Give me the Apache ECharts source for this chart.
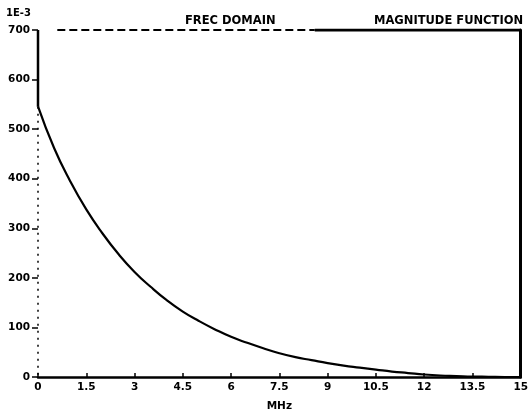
<!DOCTYPE html>
<html>
<head>
<meta charset="utf-8">
<script src="https://cdn.jsdelivr.net/npm/echarts@6/dist/echarts.min.js"></script>
<style>html,body{margin:0;padding:0;background:#fff;}#c{width:531px;height:417px;}</style>
</head>
<body>
<div id="c"></div>
<script>
// Frequency (MHz) and magnitude (units of 1E-3)
const freqMHz = [0,0.5,1,1.5,2,2.5,3,3.5,4,4.5,5,5.5,6,6.5,7,7.5,8,8.5,9,9.5,10,10.5,11,11.5,12,12.5,13,13.5,14,14.5,15];
const magnitude = [546,462,395,338,290,248,212,182,155,132,113,96,81,69,58,48,40,34,28,23,19,15,11,8,5,3,2,1,0.5,0,0];
const xTickLabels = ["0","1.5","3","4.5","6","7.5","9","10.5","12","13.5","15"];
const yTickLabels = ["0","100","200","300","400","500","600","700"];
const titleLeft = "FREC DOMAIN";
const titleRight = "MAGNITUDE FUNCTION";
const unitLabel = "1E-3";
const xName = "MHz";

const font = '"DejaVu Sans", sans-serif';
const data = freqMHz.map((f, i) => [f, magnitude[i]]);

const chart = echarts.init(document.getElementById('c'), null, {renderer: 'canvas'});
chart.setOption({
  animation: false,
  backgroundColor: '#fff',
  grid: {left: 38, right: 8, top: 30, bottom: 37, show: false},
  title: [
    {text: unitLabel, left: 1, top: 3, textStyle: {fontFamily: font, fontSize: 10, fontWeight: 'bold', color: '#000'}},
    {text: titleLeft, left: 180, top: 10, textStyle: {fontFamily: font, fontSize: 11.5, fontWeight: 'bold', color: '#000'}},
    {text: titleRight, left: 369, top: 10, textStyle: {fontFamily: font, fontSize: 11.5, fontWeight: 'bold', color: '#000'}}
  ],
  xAxis: [{
    type: 'value', min: 0, max: 15, interval: 1.5,
    name: xName, nameLocation: 'middle', nameGap: 24,
    nameTextStyle: {fontFamily: font, fontSize: 10.5, fontWeight: 'bold', color: '#000'},
    axisLine: {show: true, onZero: false, lineStyle: {color: '#000', width: 2.5}},
    axisTick: {show: true, inside: true, length: 4, lineStyle: {color: '#000', width: 1.5}},
    axisLabel: {fontFamily: font, fontSize: 10.5, fontWeight: 'bold', color: '#000', margin: 5,
      formatter: (v) => { const i = Math.round(v / 1.5); return xTickLabels[i] !== undefined ? xTickLabels[i] : ''; }},
    splitLine: {show: false}
  }],
  yAxis: [{
    type: 'value', min: 0, max: 700, interval: 100,
    axisLine: {show: false},
    axisTick: {show: true, length: 6, lineStyle: {color: '#000', width: 1.5}},
    axisLabel: {fontFamily: font, fontSize: 10.5, fontWeight: 'bold', color: '#000', margin: 8,
      formatter: (v) => { const i = Math.round(v / 100); return yTickLabels[i] !== undefined ? yTickLabels[i] : ''; }},
    splitLine: {show: false}
  }, {
    type: 'value', min: 0, max: 700, interval: 100, position: 'right',
    axisLine: {show: true, lineStyle: {color: '#000', width: 3}},
    axisTick: {show: false}, axisLabel: {show: false}, splitLine: {show: false}
  }],
  series: [
    {
      type: 'line', data: data, smooth: true, symbol: 'none',
      lineStyle: {color: '#000', width: 2.2}
    },
    { // left frame, solid upper part
      type: 'line', data: [[0, 700], [0, 545]], symbol: 'none', silent: true,
      lineStyle: {color: '#000', width: 2.5}
    },
    { // left frame, broken lower part
      type: 'line', data: [[0, 545], [0, 0]], symbol: 'none', silent: true,
      lineStyle: {color: '#000', width: 1.5, type: [2, 5]}
    },
    { // top frame, broken left part
      type: 'line', data: [[0.6, 700], [8.6, 700]], symbol: 'none', silent: true,
      lineStyle: {color: '#000', width: 2, type: [8, 4]}
    },
    { // top frame, solid right part
      type: 'line', data: [[8.6, 700], [15, 700]], symbol: 'none', silent: true,
      lineStyle: {color: '#000', width: 3}
    }
  ]
});
</script>
</body>
</html>
